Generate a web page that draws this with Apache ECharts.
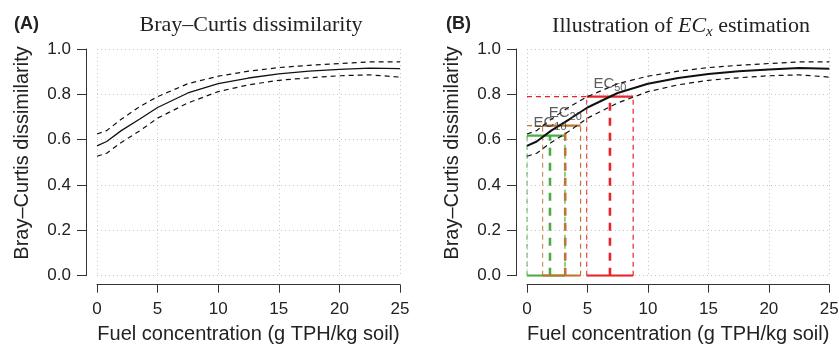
<!DOCTYPE html>
<html><head><meta charset="utf-8">
<script src="https://cdn.jsdelivr.net/npm/echarts@6/dist/echarts.min.js"></script>
<style>html,body{margin:0;padding:0;background:#fff}#c{width:839px;height:350px}</style>
</head><body><div id="c"></div>
<script>
// ---- data ----
const xValues     = [0, 0.8, 2, 3.5, 5, 7.5, 10, 12.5, 15, 17.5, 20, 22.5, 25];
const meanValues  = [0.573, 0.592, 0.640, 0.690, 0.742, 0.806, 0.847, 0.872, 0.890, 0.902, 0.910, 0.916, 0.913];
const upperValues = [0.625, 0.640, 0.690, 0.745, 0.790, 0.847, 0.880, 0.902, 0.918, 0.928, 0.936, 0.943, 0.943];
const lowerValues = [0.527, 0.540, 0.588, 0.638, 0.695, 0.762, 0.812, 0.842, 0.862, 0.873, 0.882, 0.886, 0.876];
const xTickValues = [0, 5, 10, 15, 20, 25];
const yTickValues = [0, 0.2, 0.4, 0.6, 0.8, 1.0];
const ecNames    = ['10', '20', '50'];
const ecLevel    = [0.618, 0.662, 0.790];
const ecEstimate = [1.90, 3.16, 6.86];
const ecLower    = [0.00, 1.29, 4.93];
const ecUpper    = [3.14, 4.43, 8.78];

// ---- styles ----
const ecColors = ['#4dab43', '#bb7630', '#e8242b'];
const sans = 'Liberation Sans, Arial, sans-serif';
const serif = 'Liberation Serif, Times New Roman, serif';
const axisColor = '#333';

const chart = echarts.init(document.getElementById('c'), null, {renderer: 'canvas'});

function xAxisCfg(gi) {
  return {
    type: 'value', gridIndex: gi, min: xTickValues[0], max: xTickValues[xTickValues.length - 1],
    interval: xTickValues[1] - xTickValues[0], offset: 9, position: 'bottom',
    name: 'Fuel concentration (g TPH/kg soil)', nameLocation: 'middle', nameGap: 40,
    nameTextStyle: {fontFamily: sans, fontSize: 20, color: '#222'},
    axisLine: {show: true, onZero: false, lineStyle: {color: axisColor, width: 1}},
    axisTick: {show: true, length: 8, lineStyle: {color: axisColor}},
    axisLabel: {fontFamily: sans, fontSize: 17, color: '#222', margin: 16},
    splitLine: {show: true, lineStyle: {type: [1, 3], color: '#c8c8c8'}}
  };
}
function yAxisCfg(gi) {
  return {
    type: 'value', gridIndex: gi, min: yTickValues[0], max: yTickValues[yTickValues.length - 1],
    interval: 0.2, offset: 11, position: 'left',
    axisLine: {show: true, onZero: false, lineStyle: {color: axisColor, width: 1}},
    axisTick: {show: true, length: 9, lineStyle: {color: axisColor}},
    axisLabel: {fontFamily: sans, fontSize: 17, color: '#222', margin: 15, formatter: v => v.toFixed(1)},
    splitLine: {show: true, lineStyle: {type: [1, 3], color: '#c8c8c8'}}
  };
}
function pts(ys) { return xValues.map((x, i) => [x, ys[i]]); }
function curve(gi, ys, dashed, width) {
  return {
    type: 'line', xAxisIndex: gi, yAxisIndex: gi, data: pts(ys), showSymbol: false, symbol: 'none',
    smooth: false, silent: true, z: 5,
    lineStyle: {color: '#111', width: width, type: dashed ? [5, 4] : 'solid'}
  };
}
function seg(a, b, color, width, type, opacity) {
  return {
    type: 'line', xAxisIndex: 1, yAxisIndex: 1, data: [a, b], showSymbol: false, symbol: 'none',
    silent: true, z: 3,
    lineStyle: {color: color, width: width, type: type, opacity: opacity == null ? 1 : opacity}
  };
}

const series = [
  curve(0, upperValues, true, 1.2),
  curve(0, lowerValues, true, 1.2),
  curve(0, meanValues, false, 1.3)
];
ecNames.forEach((n, i) => {
  const c = ecColors[i], lv = ecLevel[i], lo = ecLower[i], hi = ecUpper[i], est = ecEstimate[i];
  if (lo > 0) series.push(seg([0, lv], [lo, lv], c, 1.2, [5, 4]));
  series.push(seg([lo, lv], [hi, lv], c, 2.2, 'solid'));
  series.push(seg([lo, 0], [hi, 0], c, 2.2, 'solid'));
  series.push(seg([lo, 0], [lo, lv], c, 1.2, [5, 4], 0.8));
  series.push(seg([hi, 0], [hi, lv], c, 1.2, [5, 4]));
  series.push(seg([est, 0], [est, lv], c, 2.6, [8, 7]));
});
series.push(curve(1, upperValues, true, 1.2));
series.push(curve(1, lowerValues, true, 1.2));
series.push(curve(1, meanValues, false, 2));
series.push({
  type: 'scatter', xAxisIndex: 1, yAxisIndex: 1, symbolSize: 0, silent: true, z: 10,
  data: ecNames.map((n, i) => ({value: [ecEstimate[i], ecLevel[i]], name: n})),
  label: {
    show: true, position: 'top', distance: 3,
    formatter: p => '{a|EC}{b|' + p.name + '}',
    rich: {
      a: {fontFamily: sans, fontSize: 15, color: '#333', lineHeight: 20, verticalAlign: 'middle'},
      b: {fontFamily: sans, fontSize: 11, color: '#333', lineHeight: 20, verticalAlign: 'bottom'}
    }
  }
});

chart.setOption({
  animation: false,
  backgroundColor: '#fff',
  title: [
    {text: 'Bray\u2013Curtis dissimilarity', left: 246, top: 9, textAlign: 'center',
     textStyle: {fontFamily: serif, fontSize: 22, fontWeight: 'normal', color: '#222'}},
    {text: '{n|Illustration of }{i|EC}{s|x}{n| estimation}', left: 676, top: 7, textAlign: 'center',
     textStyle: {fontWeight: 'normal', rich: {
       n: {fontFamily: serif, fontSize: 22, fontWeight: 'normal', color: '#222', lineHeight: 28, verticalAlign: 'middle'},
       i: {fontFamily: serif, fontSize: 22, fontWeight: 'normal', fontStyle: 'italic', color: '#222', lineHeight: 28, verticalAlign: 'middle'},
       s: {fontFamily: serif, fontSize: 15, fontWeight: 'normal', fontStyle: 'italic', color: '#222', lineHeight: 28, verticalAlign: 'bottom'}
     }}},
    {text: '(A)', left: 9, top: 10, textStyle: {fontFamily: sans, fontSize: 18, fontWeight: 'bold', color: '#222'}},
    {text: '(B)', left: 441, top: 10, textStyle: {fontFamily: sans, fontSize: 18, fontWeight: 'bold', color: '#222'}}
  ],
  grid: [
    {left: 97, top: 49, width: 303, height: 226.7, outerBoundsMode: 'none', containLabel: false},
    {left: 527, top: 49, width: 302.3, height: 226.7, outerBoundsMode: 'none', containLabel: false}
  ],
  xAxis: [xAxisCfg(0), xAxisCfg(1)],
  yAxis: [yAxisCfg(0), yAxisCfg(1)],
  graphic: [
    {type: 'text', x: 22, y: 153, rotation: Math.PI / 2,
     style: {text: 'Bray\u2013Curtis dissimilarity', fontFamily: sans, fontSize: 20, fill: '#222', align: 'center', verticalAlign: 'middle'}},
    {type: 'text', x: 452, y: 153, rotation: Math.PI / 2,
     style: {text: 'Bray\u2013Curtis dissimilarity', fontFamily: sans, fontSize: 20, fill: '#222', align: 'center', verticalAlign: 'middle'}}
  ],
  series: series
});
</script></body></html>
